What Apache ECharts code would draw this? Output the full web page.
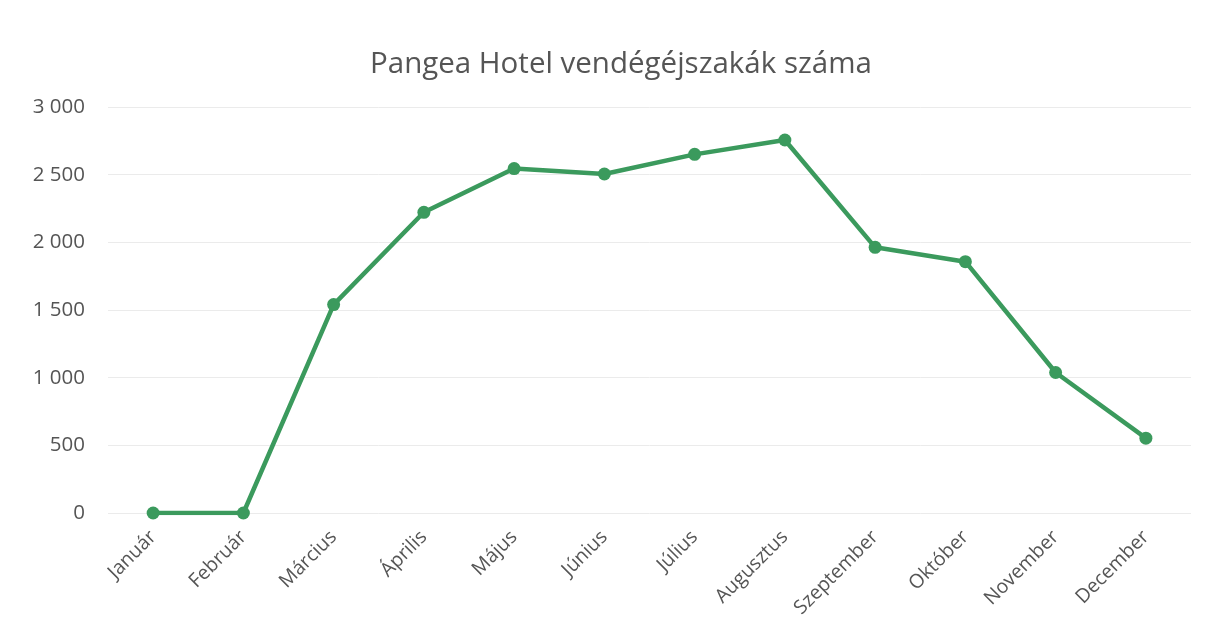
<!DOCTYPE html>
<html>
<head>
<meta charset="utf-8">
<script src="https://cdn.jsdelivr.net/npm/echarts@6/dist/echarts.min.js"></script>
<style>
    html, body { margin: 0; padding: 0; background: #fff; }
    #chart { width: 1211px; height: 640px; }
</style>
</head>
<body>
<div id="chart"></div>
<script>
    // havi adatok
    var months = ['Január', 'Február', 'Március', 'Április', 'Május', 'Június',
        'Július', 'Augusztus', 'Szeptember', 'Október', 'November', 'December'];
    var nights = [0, 0, 1540, 2222, 2545, 2505, 2650, 2756, 1963, 1857, 1038, 553];

    var green = '#3b9a5d';
    var txt = '#555555';

    var myChart = echarts.init(document.getElementById('chart'));
    myChart.setOption({
        title: {
            text: 'Pangea Hotel vendégéjszakák száma',
            left: 365,
            top: 45,
            textStyle: {
                fontFamily: 'Open Sans',
                fontWeight: 'normal',
                fontSize: 29.5,
                color: txt
            }
        },
        grid: {left: 108, right: 20, top: 107, bottom: 127},
        xAxis: {
            type: 'category',
            data: months,
            boundaryGap: true,
            axisLine: {show: false},
            axisTick: {show: false},
            axisLabel: {
                rotate: 45,
                margin: 21,
                fontFamily: 'Open Sans',
                fontSize: 19.5,
                color: txt
            }
        },
        yAxis: {
            type: 'value',
            min: 0,
            max: 3000,
            interval: 500,
            axisLine: {show: false},
            axisTick: {show: false},
            axisLabel: {
                margin: 23,
                fontFamily: 'Open Sans',
                fontSize: 20.5,
                color: txt,
                formatter: function (v) {
                    return String(v).replace(/\B(?=(\d{3})+(?!\d))/g, ' ');
                }
            },
            splitLine: {lineStyle: {color: '#ebebeb', width: 1}}
        },
        series: [{
            type: 'line',
            data: nights,
            symbol: 'circle',
            symbolSize: 13,
            lineStyle: {color: green, width: 4.5},
            itemStyle: {color: green}
        }]
    });
</script>
</body>
</html>
